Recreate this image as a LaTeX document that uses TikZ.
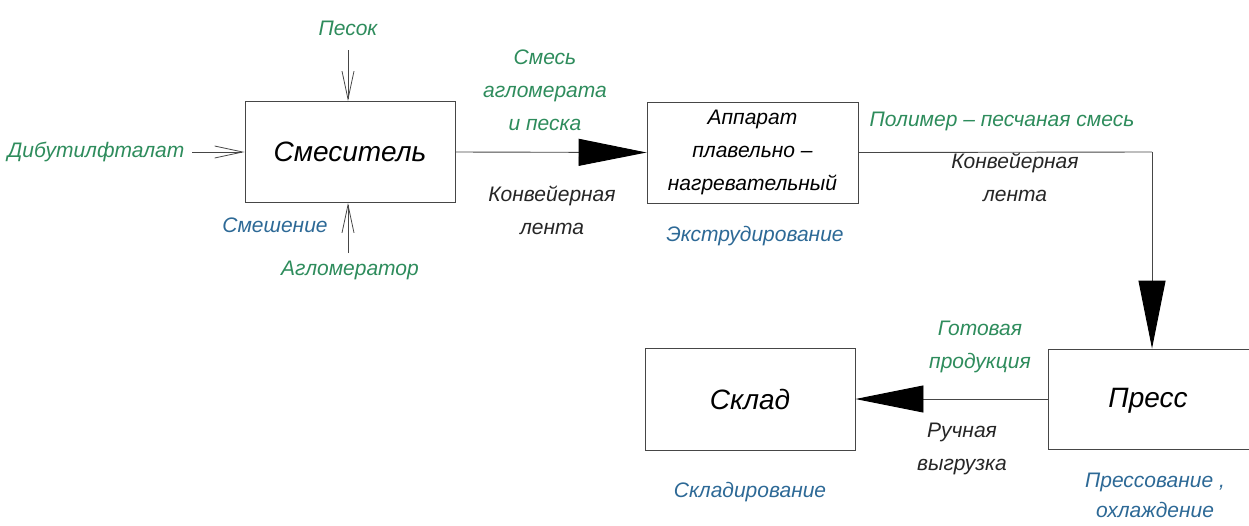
\documentclass[tikz,border=0pt]{standalone}
\usepackage{fontspec}
\setmainfont{Liberation Sans}
\usetikzlibrary{arrows.meta}
\definecolor{lblgreen}{RGB}{46,140,92}
\definecolor{lblblue}{RGB}{45,105,150}
\definecolor{linegray}{RGB}{70,70,70}
\tikzset{
  box/.style={draw=linegray, line width=0.9pt, minimum width=210pt, minimum height=101pt, inner sep=0pt},
  boxtitle/.style={font=\fontsize{28}{30}\selectfont\itshape, text=black},
  boxsmall/.style={font=\fontsize{21}{33}\selectfont\itshape, text=black, align=center},
  glabel/.style={font=\fontsize{21}{33}\selectfont\itshape, text=lblgreen, align=center, inner sep=0pt},
  blabel/.style={font=\fontsize{21}{30}\selectfont\itshape, text=lblblue, align=center, inner sep=0pt},
  klabel/.style={font=\fontsize{21}{33}\selectfont\itshape, text=black!85, align=center, inner sep=0pt},
  flow/.style={draw=linegray, line width=0.9pt},
  bigtip/.style={-{Triangle[length=68pt,width=27pt,color=black]}, draw=linegray, line width=0.9pt},
  thintip/.style={-{Straight Barb[length=28pt,width=12pt,line width=0.8pt]}, draw=linegray, line width=0.8pt},
}
\begin{document}
\begin{tikzpicture}[x=1pt,y=-1pt]
\useasboundingbox (0,0) rectangle (1249,525);
% boxes
\node[box] (mix) at (350,152) {};
\node[boxtitle] at (mix.center) {Смеситель};
\node[box, minimum width=211pt] (app) at (752.5,152.5) {};
\node[boxsmall] at (app.center) {Аппарат\\плавельно –\\нагревательный};
\node[box, minimum height=102pt] (sklad) at (750,399) {};
\node[boxtitle] at (sklad.center) {Склад};
\node[box, minimum width=230pt, minimum height=100pt, anchor=west] (press) at (1048,399) {};
\node[boxtitle] at (1148,401) {Пресс};
% input coordinates
\coordinate (sandS) at (348,50);
\coordinate (dibS) at (192,152);
\coordinate (aglS) at (348,253);
\coordinate (corner) at (1152,152);
% inputs
\draw[thintip] (sandS) -- (mix.north -| sandS);
\draw[thintip] (dibS) -- (mix.west);
\draw[thintip] (aglS) -- (mix.south -| aglS);
% main flows
\draw[bigtip] (mix.east) -- (app.west);
\draw[flow] (app.east) -- (corner);
\draw[bigtip] (corner) -- (press.north -| corner);
\draw[bigtip] (press.west) -- (sklad.east);
% labels
\node[glabel] (lsand) at (348,28) {Песок};
\node[glabel] (ldib) at (96,152) {Дибутилфталат};
\node[blabel] (lmix) at (275,225) {Смешение};
\node[glabel] (lagl) at (350,270) {Агломератор};
\node[glabel] (lsmes) at (545,90) {Смесь\\агломерата\\и песка};
\node[klabel] (lkonv1) at (552,210) {Конвейерная\\лента};
\node[blabel] (lextr) at (755,236) {Экструдирование};
\node[glabel] (lpol) at (1002,121) {Полимер – песчаная смесь};
\node[klabel] (lkonv2) at (1015,177) {Конвейерная\\лента};
\node[glabel] (lgot) at (980,347) {Готовая\\продукция};
\node[klabel] (lruch) at (962,449) {Ручная\\выгрузка};
\node[blabel] (lskl) at (750,492) {Складирование};
\node[blabel] (lpress) at (1155,495) {Прессование ,\\охлаждение};
\end{tikzpicture}
\end{document}
